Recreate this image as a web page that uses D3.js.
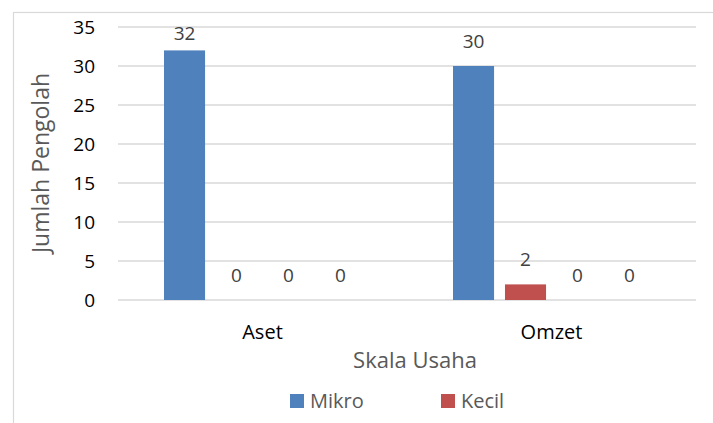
<!DOCTYPE html>
<html>
<head>
<meta charset="utf-8">
<script src="https://cdn.jsdelivr.net/npm/d3@7"></script>
<style>
  body { margin: 0; background: #fff; }
  svg { display: block; font-family: "Open Sans", "Liberation Sans", sans-serif; }
</style>
</head>
<body>
<svg id="chart"></svg>
<script>
var categories = ["Aset", "Omzet"];
var seriesNames = ["Mikro", "Kecil", "Menengah", "Besar"];
var legendNames = ["Mikro", "Kecil"];
var values = {
    "Mikro":    [32, 30],
    "Kecil":    [0, 2],
    "Menengah": [0, 0],
    "Besar":    [0, 0]
};
var yTicks = [0, 5, 10, 15, 20, 25, 30, 35];

var width = 713, height = 423;
var svg = d3.select("#chart")
    .attr("width", width)
    .attr("height", height);

// chart area border
svg.append("rect")
    .attr("x", 13.5).attr("y", 12.5)
    .attr("width", 720).attr("height", 440)
    .attr("fill", "none")
    .attr("stroke", "#d9d9d9")
    .attr("stroke-width", 1.2);

var plotLeft = 118, plotRight = 696, plotTop = 27, plotBottom = 300;

var y = d3.scaleLinear().domain([0, 35]).range([plotBottom, plotTop]);

var x0 = d3.scaleBand().domain(categories).range([plotLeft, plotRight]);
var x1 = d3.scaleBand().domain(seriesNames)
    .range([0, x0.bandwidth()])
    .paddingInner(0.21)
    .paddingOuter(0.885);

var colorBar = d3.scaleOrdinal()
    .domain(seriesNames)
    .range(["#4f81bd", "#c0504d", "#9bbb59", "#8064a2"]);

// gridlines
svg.append("g").selectAll("line")
    .data(yTicks)
    .enter()
    .append("line")
    .attr("x1", plotLeft).attr("x2", plotRight)
    .attr("y1", d => y(d)).attr("y2", d => y(d))
    .attr("stroke", "#d9d9d9")
    .attr("stroke-width", 1.3);

// y tick labels
svg.append("g").selectAll("text")
    .data(yTicks)
    .enter()
    .append("text")
    .attr("x", 95)
    .attr("y", d => y(d))
    .attr("dy", "0.36em")
    .attr("text-anchor", "end")
    .attr("font-size", "19px")
    .attr("fill", "#000")
    .text(d => d);

var flat = [];
categories.forEach(function(c, i) {
    seriesNames.forEach(function(s) {
        flat.push({cat: c, series: s, value: values[s][i]});
    });
});

svg.append("g").selectAll("rect")
    .data(flat)
    .enter()
    .append("rect")
    .attr("x", d => x0(d.cat) + x1(d.series))
    .attr("y", d => y(d.value))
    .attr("width", x1.bandwidth())
    .attr("height", d => plotBottom - y(d.value))
    .attr("fill", d => colorBar(d.series));

// data labels
svg.append("g").selectAll("text")
    .data(flat)
    .enter()
    .append("text")
    .attr("x", d => x0(d.cat) + x1(d.series) + x1.bandwidth() / 2)
    .attr("y", d => Math.max(y(d.value) - 18, plotTop + 12.5))
    .attr("text-anchor", "middle")
    .attr("font-size", "19px")
    .attr("fill", "#404040")
    .text(d => d.value);

// category labels
svg.append("g").selectAll("text")
    .data(categories)
    .enter()
    .append("text")
    .attr("x", d => x0(d) + x0.bandwidth() / 2)
    .attr("y", 339)
    .attr("text-anchor", "middle")
    .attr("font-size", "20px")
    .attr("fill", "#000")
    .text(d => d);

// axis titles
svg.append("text")
    .attr("x", 415)
    .attr("y", 368)
    .attr("text-anchor", "middle")
    .attr("font-size", "22px")
    .attr("fill", "#595959")
    .text("Skala Usaha");

svg.append("text")
    .attr("transform", "translate(49,163) rotate(-90)")
    .attr("text-anchor", "middle")
    .attr("font-size", "23px")
    .attr("fill", "#595959")
    .text("Jumlah Pengolah");

// legend
var legendX = d3.scalePoint().domain(legendNames).range([290, 441]);
var legend = svg.append("g").selectAll("g")
    .data(legendNames)
    .enter()
    .append("g")
    .attr("transform", d => `translate(${legendX(d)},394)`);

legend.append("rect")
    .attr("width", 14).attr("height", 14)
    .attr("fill", d => colorBar(d));

legend.append("text")
    .attr("x", 20).attr("y", 7)
    .attr("dy", "0.36em")
    .attr("font-size", "20px")
    .attr("fill", "#595959")
    .text(d => d);
</script>
</body>
</html>
